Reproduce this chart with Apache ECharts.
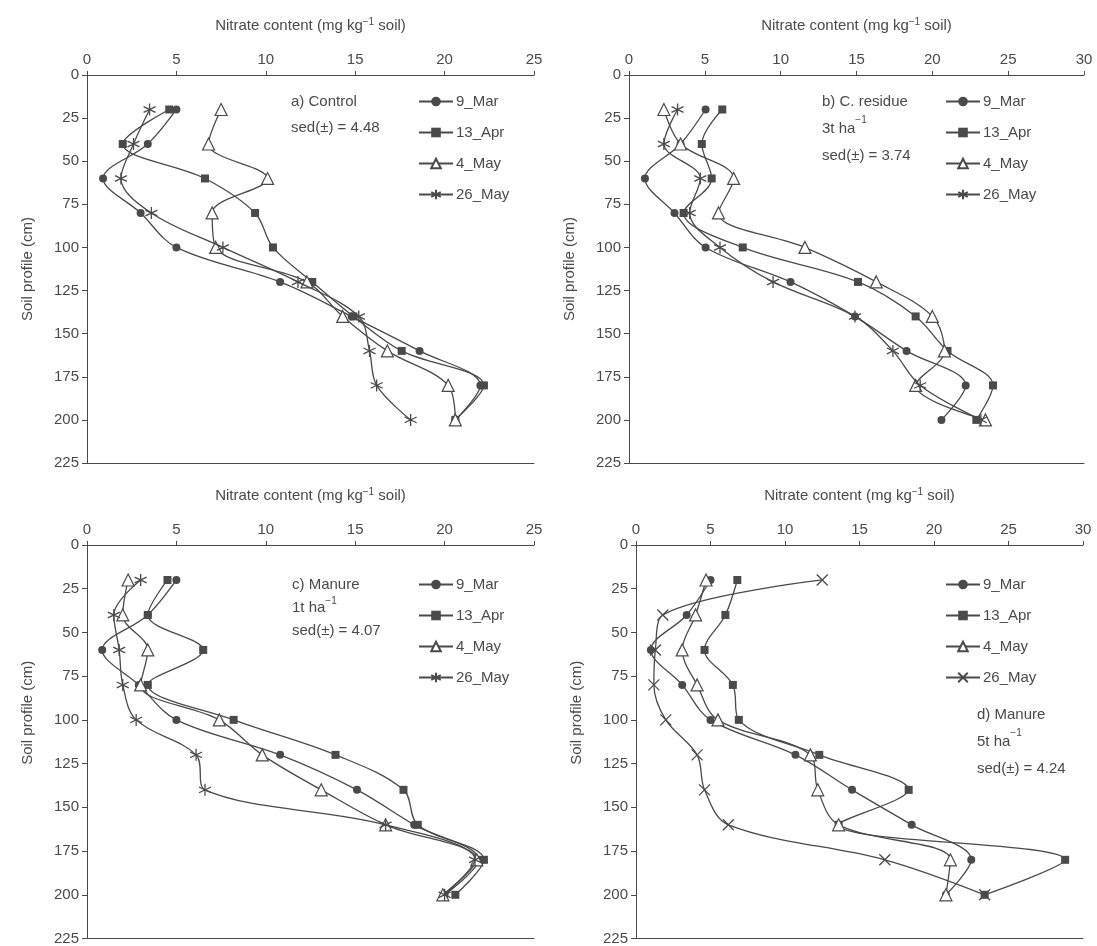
<!DOCTYPE html>
<html>
<head>
<meta charset="utf-8">
<script src="https://cdn.jsdelivr.net/npm/echarts@6/dist/echarts.min.js"></script>
<style>
  html, body { margin: 0; padding: 0; background: #fff; }
  #chart { width: 1097px; height: 946px; }
</style>
</head>
<body>
<div id="chart"></div>
<script>
// depths (cm) for every profile
const depths = [20, 40, 60, 80, 100, 120, 140, 160, 180, 200];
const dates = ['9_Mar', '13_Apr', '4_May', '26_May'];
const depthTicks = [0, 25, 50, 75, 100, 125, 150, 175, 200, 225];

// a) Control
const controlMar = [5.0, 3.4, 0.9, 3.0, 5.0, 10.8, 14.8, 18.6, 22.0, 20.6];
const controlApr = [4.6, 2.0, 6.6, 9.4, 10.4, 12.6, 14.9, 17.6, 22.2, 20.6];
const controlMay4 = [7.5, 6.8, 10.1, 7.0, 7.2, 12.3, 14.3, 16.8, 20.2, 20.6];
const controlMay26 = [3.5, 2.6, 1.9, 3.6, 7.6, 11.8, 15.2, 15.8, 16.2, 18.1];

// b) C. residue 3t/ha
const residueMar = [5.05, 3.4, 1.05, 3.0, 5.05, 10.65, 14.9, 18.3, 22.2, 20.6];
const residueApr = [6.15, 4.8, 5.45, 3.6, 7.5, 15.1, 18.9, 21.0, 24.0, 22.9];
const residueMay4 = [2.3, 3.4, 6.9, 5.9, 11.6, 16.3, 20.0, 20.8, 18.9, 23.5];
const residueMay26 = [3.2, 2.3, 4.7, 4.0, 6.0, 9.5, 14.9, 17.4, 19.2, 23.2];

// c) Manure 1t/ha
const manure1Mar = [5.0, 3.4, 0.85, 2.9, 5.0, 10.8, 15.1, 18.3, 21.9, 20.0];
const manure1Apr = [4.5, 3.4, 6.5, 3.4, 8.2, 13.9, 17.7, 18.5, 22.2, 20.6];
const manure1May4 = [2.3, 2.0, 3.4, 3.0, 7.4, 9.8, 13.1, 16.7, 21.8, 19.9];
const manure1May26 = [3.0, 1.5, 1.8, 2.0, 2.75, 6.1, 6.6, 16.7, 21.7, 20.0];

// d) Manure 5t/ha
const manure5Mar = [5.0, 3.4, 1.0, 3.1, 5.0, 10.7, 14.5, 18.5, 22.5, 20.8];
const manure5Apr = [6.8, 6.0, 4.6, 6.5, 6.9, 12.3, 18.3, 13.6, 28.8, 23.4];
const manure5May4 = [4.7, 4.0, 3.1, 4.1, 5.5, 11.7, 12.2, 13.6, 21.1, 20.8];
const manure5May26 = [12.5, 1.8, 1.3, 1.2, 2.0, 4.1, 4.6, 6.2, 16.7, 23.4];

const panels = [
  { values: [controlMar, controlApr, controlMay4, controlMay26], xMax: 25,
    grid: { left: 87, top: 75, width: 447, height: 388 },
    legend: { left: 413, top: 89 }, nameShift: 0,
    label: ['a) Control', 'sed(±) = 4.48'], labelPos: [291, 89], lh: 26, cross: false },
  { values: [residueMar, residueApr, residueMay4, residueMay26], xMax: 30,
    grid: { left: 629, top: 75, width: 455, height: 388 },
    legend: { left: 940, top: 89 }, nameShift: 0,
    label: ['b) C. residue', '3t ha{sup|−1}', 'sed(±) = 3.74'], labelPos: [822, 88], lh: 27, cross: false },
  { values: [manure1Mar, manure1Apr, manure1May4, manure1May26], xMax: 25,
    grid: { left: 87, top: 545, width: 447, height: 394 },
    legend: { left: 413, top: 572 }, nameShift: 58,
    label: ['c) Manure', '1t ha{sup|−1}', 'sed(±) = 4.07'], labelPos: [292, 573], lh: 23, cross: false },
  { values: [manure5Mar, manure5Apr, manure5May4, manure5May26], xMax: 30,
    grid: { left: 636, top: 545, width: 447, height: 394 },
    legend: { left: 940, top: 572 }, nameShift: 58,
    label: ['d) Manure', '5t ha{sup|−1}', 'sed(±) = 4.24'], labelPos: [977, 701], lh: 27, cross: true }
];

const ink = '#4a4a4a';
const font = 'Liberation Sans, Arial, sans-serif';
const asterisk = 'path://M5,0L5,10M0.8,2.6L9.2,7.4M0.8,7.4L9.2,2.6';
const crossMark = 'path://M0,0L10,10M0,10L10,0';

const myChart = echarts.init(document.getElementById('chart'));

let grids = [], xAxes = [], yAxes = [], series = [], legends = [], graphics = [];

panels.forEach(function (p, k) {
  grids.push(p.grid);
  // top axis with labels
  xAxes.push({
    gridIndex: k, type: 'value', position: 'top', min: 0, max: p.xMax, interval: 5,
    name: '{t|Nitrate content (mg kg}{s|−1}{t| soil)}',
    nameLocation: 'middle', nameGap: 40,
    nameTextStyle: { rich: {
      t: { fontFamily: font, fontSize: 15, color: ink },
      s: { fontFamily: font, fontSize: 10, color: ink, verticalAlign: 'top', padding: [0, 0, 8, 0] }
    } },
    axisLine: { show: true, lineStyle: { color: ink, width: 1 } },
    axisTick: { show: true, length: 4, lineStyle: { color: ink } },
    axisLabel: { fontFamily: font, fontSize: 15, color: ink, margin: 8 },
    splitLine: { show: false }
  });
  yAxes.push({
    gridIndex: k, type: 'value', inverse: true, min: 0, max: 225, interval: 25,
    name: 'Soil profile (cm)', nameLocation: 'middle', nameGap: 52,
    nameTextStyle: { fontFamily: font, fontSize: 15, color: ink, padding: [0, 0, 0, p.nameShift] },
    axisLine: { show: true, lineStyle: { color: ink, width: 1 } },
    axisTick: { show: true, length: 5, lineStyle: { color: ink } },
    axisLabel: { fontFamily: font, fontSize: 15, color: ink, margin: 8 },
    splitLine: { show: false }
  });
  const names = dates.map(function (d) { return 'p' + k + '_' + d; });
  p.values.forEach(function (vals, i) {
    let symbol, size, itemStyle;
    if (i === 0) { symbol = 'circle'; size = 8; itemStyle = { color: ink }; }
    else if (i === 1) { symbol = 'rect'; size = 8; itemStyle = { color: ink }; }
    else if (i === 2) { symbol = 'triangle'; size = 12; itemStyle = { color: '#fff', borderColor: ink, borderWidth: 1.2 }; }
    else { symbol = p.cross ? crossMark : asterisk; size = p.cross ? 11 : 12; itemStyle = { color: 'none', borderColor: ink, borderWidth: 1.3 }; }
    series.push({
      name: names[i], type: 'line', xAxisIndex: k, yAxisIndex: k,
      data: depths.map(function (d, j) { return [vals[j], d]; }),
      smooth: 0.35, symbol: symbol, symbolSize: size, showAllSymbol: true,
      lineStyle: { color: ink, width: 1.3 }, itemStyle: itemStyle,
      emphasis: { disabled: true }, z: 3 + i
    });
  });
  legends.push({
    data: names, orient: 'vertical', left: p.legend.left, top: p.legend.top,
    itemWidth: 34, itemHeight: 12, itemGap: 16, selectedMode: false,
    formatter: function (n) { return n.split('_').slice(1).join('_'); },
    textStyle: { fontFamily: font, fontSize: 15, color: ink, padding: [0, 0, 0, -2] }
  });
  graphics.push({
    type: 'text', left: p.labelPos[0], top: p.labelPos[1],
    style: {
      text: p.label.join('\n'), fontFamily: font, fontSize: 15, fill: ink, lineHeight: p.lh,
      rich: { sup: { fontFamily: font, fontSize: 10, fill: ink, verticalAlign: 'top', padding: [0, 0, 8, 0] } }
    }
  });
});

// plain bottom line of each panel
panels.forEach(function (p, k) {
  xAxes.push({
    gridIndex: k, type: 'value', position: 'bottom', min: 0, max: p.xMax,
    axisLine: { show: true, lineStyle: { color: ink, width: 1 } },
    axisTick: { show: false }, axisLabel: { show: false }, splitLine: { show: false }
  });
});

const option = {
  animation: false,
  backgroundColor: '#fff',
  grid: grids,
  xAxis: xAxes,
  yAxis: yAxes,
  legend: legends,
  graphic: graphics,
  series: series
};
myChart.setOption(option);
window.addEventListener('resize', function () {
  myChart.resize();
});
</script>
</body>
</html>
